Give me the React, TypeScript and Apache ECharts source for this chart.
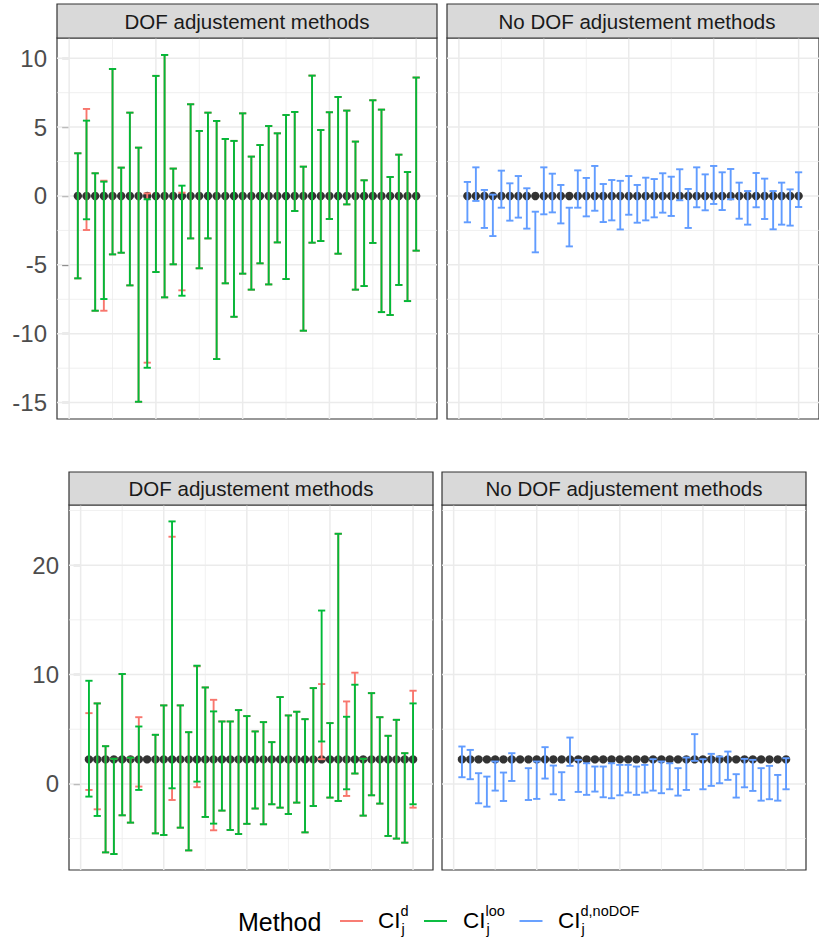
import React, { useEffect, useRef } from "react";
import * as echarts from "echarts";

const FONT = "'Liberation Sans', Arial, Helvetica, sans-serif";

// ---------- data ----------
const TOP_EST = [0,0,0,0,0,0,0,0,0,0,0,0,0,0,0,0,0,0,0,0,0,0,0,0,0,0,0,0,0,0,0,0,0,0,0,0,0,0,0,0];
const BOTTOM_EST = [2.24,2.24,2.24,2.24,2.24,2.24,2.24,2.24,2.24,2.24,2.24,2.24,2.24,2.24,2.24,2.24,2.24,2.24,2.24,2.24,2.24,2.24,2.24,2.24,2.24,2.24,2.24,2.24,2.24,2.24,2.24,2.24,2.24,2.24,2.24,2.24,2.24,2.24,2.24,2.24];

// top row, DOF adjustment: CI loo (green)
const TL_LOO_HI = [3.10,5.47,1.65,1.04,9.22,2.06,6.05,3.51,-0.24,8.72,10.24,1.99,0.75,6.66,4.72,6.05,5.45,4.14,4.00,6.00,2.86,3.70,5.08,4.55,5.88,6.10,2.13,8.74,4.79,6.08,7.19,6.20,3.95,1.14,6.95,6.27,1.38,3.00,1.74,8.60];
const TL_LOO_LO = [-5.98,-1.69,-8.33,-7.48,-4.24,-4.12,-6.49,-14.94,-12.47,-5.52,-7.36,-4.96,-7.24,-3.08,-5.25,-3.08,-11.84,-6.34,-8.77,-5.64,-6.80,-4.89,-6.42,-3.37,-6.03,-1.09,-9.78,-3.39,-3.27,-1.67,-4.19,-0.61,-6.80,-6.54,-3.41,-8.43,-8.64,-6.46,-7.63,-3.97];
// top row, DOF adjustment: CI d (red)
const TL_D_HI = [3.10,6.32,1.65,1.11,9.22,2.06,6.05,3.51,0.19,8.72,10.24,1.99,0.24,6.66,4.72,6.05,5.45,4.14,4.00,6.00,2.86,3.70,5.08,4.55,5.88,6.10,2.13,8.74,4.79,6.08,7.19,6.20,3.95,1.14,6.95,6.27,1.38,3.00,1.74,8.60];
const TL_D_LO = [-5.98,-2.47,-8.33,-8.33,-4.24,-4.12,-6.49,-14.94,-12.10,-5.52,-7.36,-4.96,-6.85,-3.08,-5.25,-3.08,-11.84,-6.34,-8.77,-5.64,-6.80,-4.89,-6.42,-3.37,-6.03,-1.09,-9.78,-3.39,-3.27,-1.67,-4.19,-0.61,-6.80,-6.54,-3.41,-8.43,-8.64,-6.46,-7.63,-3.97];
// top row, no DOF adjustment: CI d,noDOF (blue)
const TR_NODOF_HI = [1.02,2.08,0.44,0.10,1.84,0.92,1.45,0.56,-1.14,2.08,1.62,0.80,-0.85,1.86,1.31,2.18,0.87,1.16,1.10,1.45,0.80,1.33,1.23,1.65,1.40,1.94,0.51,2.08,1.57,2.18,1.72,1.96,0.97,0.36,1.67,1.26,0.36,0.97,0.48,1.72];
const TR_NODOF_LO = [-1.91,-0.36,-2.32,-2.91,-0.85,-1.79,-1.57,-2.37,-4.09,-1.33,-1.19,-1.99,-3.66,-0.85,-1.48,-1.07,-1.89,-1.77,-2.43,-1.36,-1.94,-1.77,-1.55,-1.21,-1.45,-0.31,-2.32,-0.82,-1.04,-0.58,-1.02,-0.24,-1.65,-2.08,-0.82,-1.67,-2.42,-2.08,-2.15,-0.80];

// bottom row, DOF adjustment: CI loo (green)
const BL_LOO_HI = [9.43,7.36,3.45,2.30,10.05,2.40,5.25,null,4.49,7.18,24.0,7.18,4.73,10.81,8.82,6.63,5.71,5.71,6.75,6.20,4.80,5.65,3.82,7.94,6.26,6.60,5.92,8.76,15.85,5.56,22.87,6.14,9.07,2.30,8.30,6.10,4.40,5.86,2.81,7.36];
const BL_LOO_LO = [-1.16,-2.93,-6.26,-6.41,-2.87,-3.54,-0.55,null,-4.52,-4.67,-0.40,-4.00,-6.08,0.21,-3.02,-3.63,-2.44,-4.21,-4.58,-3.65,-2.25,-3.69,-1.86,-2.17,-2.75,-1.71,-4.43,-2.02,3.88,-1.25,-1.56,-0.49,0.95,-2.90,-1.04,-1.80,-4.76,-5.00,-5.37,-1.86];
// bottom row, DOF adjustment: CI d (red)
const BL_D_HI = [6.47,7.36,3.45,2.30,10.05,2.40,6.10,null,4.49,7.18,22.6,7.18,4.73,10.75,8.82,7.69,5.71,5.71,6.75,6.20,4.80,5.65,3.82,7.94,6.26,6.60,5.92,8.76,9.13,5.56,22.87,7.54,10.17,2.30,8.30,6.10,4.40,5.86,2.81,8.52];
const BL_D_LO = [-0.55,-2.32,-6.26,-6.41,-2.87,-3.54,-0.24,null,-4.52,-4.67,-1.47,-4.00,-6.08,-0.30,-3.02,-4.24,-2.44,-4.21,-4.58,-3.65,-2.25,-3.69,-1.86,-2.17,-2.75,-1.71,-4.43,-2.02,2.26,-1.25,-1.56,-1.10,0.95,-2.90,-1.04,-1.80,-4.76,-5.00,-5.37,-2.17];
// bottom row, no DOF adjustment: CI d,noDOF (blue)
const BR_NODOF_HI = [3.42,3.11,0.98,0.67,2.05,1.04,2.81,null,1.44,2.05,3.36,1.68,1.07,4.24,2.20,1.89,1.59,1.59,1.89,1.74,1.74,1.59,1.74,2.26,2.05,1.89,1.44,2.41,4.55,2.26,2.75,2.50,2.96,0.89,2.29,2.20,1.44,1.65,0.82,2.35];
const BR_NODOF_LO = [0.61,0.43,-1.77,-2.08,-0.61,-1.56,0.27,null,-1.47,-1.37,0.49,-0.95,-1.47,1.65,-0.73,-1.00,-0.70,-1.22,-1.31,-1.04,-0.79,-1.00,-0.79,-0.61,-0.85,-0.49,-1.07,-0.55,2.11,-0.49,-0.18,0.06,0.37,-1.25,-0.31,-0.64,-1.53,-1.40,-1.53,-0.49];

// axis breaks
const TOP_Y_TICKS = [-15, -10, -5, 0, 5, 10];
const TOP_Y_MINOR = [-12.5, -7.5, -2.5, 2.5, 7.5];
const BOTTOM_Y_TICKS = [0, 10, 20];
const BOTTOM_Y_MINOR = [-5, 5, 15, 25];
const X_MAJOR = [0, 10, 20, 30, 40];
const X_MINOR = [5, 15, 25, 35];

const STRIP_LABELS = ["DOF adjustement methods", "No DOF adjustement methods"];

const RED = "#F8766D";
const GREEN = "#00BA38";
const BLUE = "#619CFF";
const GRIDLINE = "#EBEBEB";
const DARK = "#333333";

// ---------- layout ----------
const GRIDS = [
  { left: 57, top: 38, width: 380, height: 381 },
  { left: 447, top: 38, width: 380, height: 381 },
  { left: 69, top: 505, width: 364, height: 365 },
  { left: 442, top: 505, width: 364, height: 365 },
];
const X_MIN = -1.4;
const X_MAX = 42.4;
const TOP_Y = { min: -16.19, max: 11.47 };
const BOT_Y = { min: -7.87, max: 25.5 };

function errData(lo: (number | null)[], hi: (number | null)[]) {
  const out: number[][] = [];
  for (let i = 0; i < lo.length; i++) {
    if (lo[i] == null || hi[i] == null) continue;
    out.push([i + 1, lo[i] as number, hi[i] as number]);
  }
  return out;
}

function pointData(est: number[]) {
  return est.map((v, i) => [i + 1, v]);
}

function gridLineData(yMajor: number[], yMinor: number[]) {
  const d: number[][] = [];
  X_MAJOR.forEach((v) => d.push([v, 0, 0]));
  X_MINOR.forEach((v) => d.push([v, 0, 1]));
  yMajor.forEach((v) => d.push([0, v, 2]));
  yMinor.forEach((v) => d.push([0, v, 3]));
  return d;
}

function gridLineSeries(idx: number, yMajor: number[], yMinor: number[]) {
  return {
    type: "custom",
    xAxisIndex: idx,
    yAxisIndex: idx,
    z: 1,
    silent: true,
    data: gridLineData(yMajor, yMinor),
    renderItem: (params: any, api: any) => {
      const cs = params.coordSys;
      const kind = api.value(2);
      const p = api.coord([api.value(0), api.value(1)]);
      const w = kind === 0 || kind === 2 ? 1.5 : 0.75;
      if (kind < 2) {
        return {
          type: "line",
          shape: { x1: p[0], y1: cs.y, x2: p[0], y2: cs.y + cs.height },
          style: { stroke: GRIDLINE, lineWidth: w },
        };
      }
      return {
        type: "line",
        shape: { x1: cs.x, y1: p[1], x2: cs.x + cs.width, y2: p[1] },
        style: { stroke: GRIDLINE, lineWidth: w },
      };
    },
  };
}

function errorSeries(idx: number, color: string, data: number[][], z: number) {
  return {
    type: "custom",
    xAxisIndex: idx,
    yAxisIndex: idx,
    z,
    silent: true,
    encode: { x: 0, y: [1, 2] },
    data,
    renderItem: (_params: any, api: any) => {
      const x = api.value(0);
      const a = api.coord([x, api.value(1)]);
      const b = api.coord([x, api.value(2)]);
      const hw = 3.6;
      const style = { stroke: color, lineWidth: 1.9 };
      return {
        type: "group",
        children: [
          { type: "line", shape: { x1: a[0], y1: a[1], x2: b[0], y2: b[1] }, style },
          { type: "line", shape: { x1: a[0] - hw, y1: a[1], x2: a[0] + hw, y2: a[1] }, style },
          { type: "line", shape: { x1: b[0] - hw, y1: b[1], x2: b[0] + hw, y2: b[1] }, style },
        ],
      };
    },
  };
}

function pointSeries(idx: number, est: number[]) {
  return {
    type: "scatter",
    xAxisIndex: idx,
    yAxisIndex: idx,
    z: 2,
    silent: true,
    symbol: "circle",
    symbolSize: 8.4,
    itemStyle: { color: "#000000" },
    data: pointData(est),
  };
}

function yAxis(idx: number, range: { min: number; max: number }, ticks: number[] | null) {
  const showLab = ticks != null;
  return {
    type: "value",
    gridIndex: idx,
    min: range.min,
    max: range.max,
    axisLine: { show: false },
    splitLine: { show: false },
    axisTick: showLab
      ? { show: true, customValues: ticks, length: 7, lineStyle: { color: DARK, width: 1.2 } }
      : { show: false },
    axisLabel: showLab
      ? { show: true, customValues: ticks, fontSize: 24, color: "#4D4D4D", margin: 10, fontFamily: FONT }
      : { show: false },
  };
}

function strip(g: { left: number; width: number }, y: number, h: number, label: string) {
  return [
    {
      type: "rect",
      shape: { x: g.left, y, width: g.width, height: h },
      style: { fill: "#D9D9D9", stroke: DARK, lineWidth: 1.2 },
      z: 10,
    },
    {
      type: "text",
      x: g.left + g.width / 2,
      y: y + h / 2,
      style: {
        text: label,
        fontSize: 20.5,
        fontFamily: FONT,
        fill: "#1A1A1A",
        align: "center",
        verticalAlign: "middle",
      },
      z: 11,
    },
  ];
}

function legendEntry(xKey: number, color: string, xText: number, sup: string) {
  const y = 921;
  return [
    { type: "line", shape: { x1: xKey, y1: y, x2: xKey + 23, y2: y }, style: { stroke: color, lineWidth: 1.9 } },
    {
      type: "text",
      x: xText,
      y: 920.5,
      style: { text: "CI", fontSize: 22.5, fontFamily: FONT, fill: "#000", align: "left", verticalAlign: "middle" },
    },
    {
      type: "text",
      x: xText + 23.5,
      y: 929,
      style: { text: "j", fontSize: 14.5, fontFamily: FONT, fill: "#000", align: "left", verticalAlign: "middle" },
    },
    {
      type: "text",
      x: xText + 22.5,
      y: 910.5,
      style: { text: sup, fontSize: 14.5, fontFamily: FONT, fill: "#000", align: "left", verticalAlign: "middle" },
    },
  ];
}

function buildOption() {
  const graphics: any[] = [
    ...strip(GRIDS[0], 4, 34, STRIP_LABELS[0]),
    ...strip(GRIDS[1], 4, 34, STRIP_LABELS[1]),
    ...strip(GRIDS[2], 472, 33, STRIP_LABELS[0]),
    ...strip(GRIDS[3], 472, 33, STRIP_LABELS[1]),
    {
      type: "text",
      x: 238,
      y: 921.5,
      style: { text: "Method", fontSize: 25, fontFamily: FONT, fill: "#000", align: "left", verticalAlign: "middle" },
    },
    ...legendEntry(340, RED, 378, "d"),
    ...legendEntry(424, GREEN, 463, "loo"),
    ...legendEntry(519.5, BLUE, 558, "d,noDOF"),
  ];

  return {
    animation: false,
    backgroundColor: "#FFFFFF",
    textStyle: { fontFamily: FONT },
    grid: GRIDS.map((g) => ({
      ...g,
      show: true,
      backgroundColor: "#FFFFFF",
      borderColor: DARK,
      borderWidth: 1.2,
      containLabel: false,
    })),
    xAxis: GRIDS.map((_g, i) => ({
      type: "value",
      gridIndex: i,
      min: X_MIN,
      max: X_MAX,
      show: false,
    })),
    yAxis: [
      yAxis(0, TOP_Y, TOP_Y_TICKS),
      yAxis(1, TOP_Y, null),
      yAxis(2, BOT_Y, BOTTOM_Y_TICKS),
      yAxis(3, BOT_Y, null),
    ],
    series: [
      gridLineSeries(0, TOP_Y_TICKS, TOP_Y_MINOR),
      gridLineSeries(1, TOP_Y_TICKS, TOP_Y_MINOR),
      gridLineSeries(2, BOTTOM_Y_TICKS, BOTTOM_Y_MINOR),
      gridLineSeries(3, BOTTOM_Y_TICKS, BOTTOM_Y_MINOR),
      pointSeries(0, TOP_EST),
      pointSeries(1, TOP_EST),
      pointSeries(2, BOTTOM_EST),
      pointSeries(3, BOTTOM_EST),
      errorSeries(0, RED, errData(TL_D_LO, TL_D_HI), 3),
      errorSeries(0, GREEN, errData(TL_LOO_LO, TL_LOO_HI), 4),
      errorSeries(1, BLUE, errData(TR_NODOF_LO, TR_NODOF_HI), 4),
      errorSeries(2, RED, errData(BL_D_LO, BL_D_HI), 3),
      errorSeries(2, GREEN, errData(BL_LOO_LO, BL_LOO_HI), 4),
      errorSeries(3, BLUE, errData(BR_NODOF_LO, BR_NODOF_HI), 4),
    ],
    graphic: { elements: graphics },
  };
}

export default function App() {
  const ref = useRef<HTMLDivElement>(null);
  useEffect(() => {
    if (!ref.current) return;
    const chart = echarts.init(ref.current, null, { renderer: "svg" });
    chart.setOption(buildOption() as any);
    return () => chart.dispose();
  }, []);
  return (
    <div
      ref={ref}
      style={{ position: "fixed", left: 0, top: 0, width: 819, height: 939, background: "#FFFFFF" }}
    />
  );
}
